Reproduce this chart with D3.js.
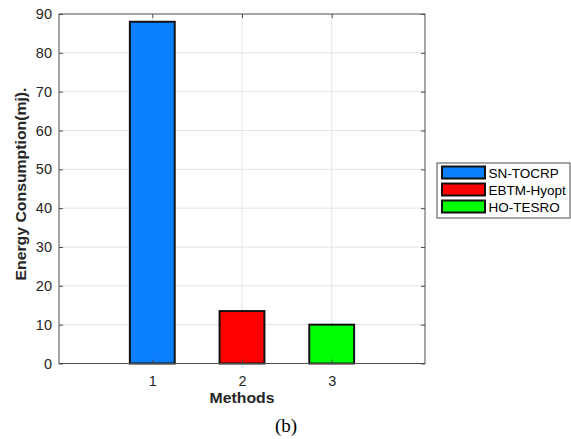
<!DOCTYPE html>
<html>
<head>
<meta charset="utf-8">
<script src="https://cdn.jsdelivr.net/npm/d3@7"></script>
<style>
  html, body { margin: 0; padding: 0; background: #fff; }
  svg { display: block; }
</style>
</head>
<body>
<svg id="chart" width="571" height="439"></svg>
<script>
// Energy consumption per method
const methods = ["SN-TOCRP", "EBTM-Hyopt", "HO-TESRO"];
const positions = [1, 2, 3];
const energy = [88, 13.5, 10];
const colors = ["#0a80ff", "#ff0000", "#00ff00"];
const yTicks = [0, 10, 20, 30, 40, 50, 60, 70, 80, 90];
const xTicks = [1, 2, 3];

const svg = d3.select("#chart");
const plot = { left: 59, right: 425, top: 14, bottom: 363.5 };

const x = d3.scaleLinear().domain([-0.04, 4.04]).range([plot.left, plot.right]);
const y = d3.scaleLinear().domain([0, 90]).range([plot.bottom, plot.top]);
const barW = x(0.5) - x(0);

// grid
const grid = svg.append("g");
grid.selectAll("line.h").data(yTicks.slice(1, -1)).join("line")
  .attr("x1", plot.left).attr("x2", plot.right)
  .attr("y1", d => y(d)).attr("y2", d => y(d))
  .attr("stroke", "#e3e3e3").attr("stroke-width", 1);
grid.selectAll("line.v").data(xTicks).join("line")
  .attr("y1", plot.top).attr("y2", plot.bottom)
  .attr("x1", d => x(d)).attr("x2", d => x(d))
  .attr("stroke", "#e3e3e3").attr("stroke-width", 1);

// bars
svg.append("g").selectAll("rect").data(energy).join("rect")
  .attr("x", (d, i) => x(positions[i]) - barW / 2)
  .attr("width", barW)
  .attr("y", d => y(d))
  .attr("height", d => y(0) - y(d))
  .attr("fill", (d, i) => colors[i])
  .attr("stroke", "#111")
  .attr("stroke-width", 2);

// axes frame
svg.append("rect")
  .attr("x", plot.left).attr("y", plot.top)
  .attr("width", plot.right - plot.left).attr("height", plot.bottom - plot.top)
  .attr("fill", "none").attr("stroke", "#4d4d4d").attr("stroke-width", 1);

const axisFont = "Liberation Sans, Arial, sans-serif";

const yAxis = svg.append("g")
  .attr("transform", `translate(${plot.left},0)`)
  .call(d3.axisLeft(y).tickValues(yTicks).tickSize(-4).tickPadding(7).tickFormat(d3.format("d")));
yAxis.select(".domain").remove();
yAxis.selectAll(".tick line").attr("stroke", "#4d4d4d");
yAxis.selectAll(".tick text").attr("fill", "#262626").attr("font-size", 14.5).attr("font-family", axisFont);

const yAxisR = svg.append("g")
  .attr("transform", `translate(${plot.right},0)`)
  .call(d3.axisRight(y).tickValues(yTicks).tickSize(-4).tickFormat(""));
yAxisR.select(".domain").remove();
yAxisR.selectAll(".tick line").attr("stroke", "#4d4d4d");

const xAxis = svg.append("g")
  .attr("transform", `translate(0,${plot.bottom})`)
  .call(d3.axisBottom(x).tickValues(xTicks).tickSize(-4).tickPadding(12).tickFormat(d3.format("d")));
xAxis.select(".domain").remove();
xAxis.selectAll(".tick line").attr("stroke", "#4d4d4d");
xAxis.selectAll(".tick text").attr("fill", "#262626").attr("font-size", 14.5).attr("font-family", axisFont);

const xAxisT = svg.append("g")
  .attr("transform", `translate(0,${plot.top})`)
  .call(d3.axisTop(x).tickValues(xTicks).tickSize(-4).tickFormat(""));
xAxisT.select(".domain").remove();
xAxisT.selectAll(".tick line").attr("stroke", "#4d4d4d");

// axis titles
svg.append("text")
  .attr("transform", "translate(26,184) rotate(-90)")
  .attr("text-anchor", "middle")
  .attr("font-family", axisFont).attr("font-weight", "bold").attr("font-size", 13.8)
  .attr("textLength", 193).attr("lengthAdjust", "spacingAndGlyphs")
  .attr("fill", "#262626")
  .text("Energy Consumption(mj).");

svg.append("text")
  .attr("x", x(2)).attr("y", 403)
  .attr("text-anchor", "middle")
  .attr("font-family", axisFont).attr("font-weight", "bold").attr("font-size", 15)
  .attr("textLength", 65).attr("lengthAdjust", "spacingAndGlyphs")
  .attr("fill", "#262626")
  .text("Methods");

svg.append("text")
  .attr("x", 286).attr("y", 432)
  .attr("text-anchor", "middle")
  .attr("font-family", "Liberation Serif, Times New Roman, serif").attr("font-size", 19)
  .attr("fill", "#000")
  .text("(b)");

// legend
const leg = svg.append("g").attr("transform", "translate(437,163)");
leg.append("rect")
  .attr("width", 133).attr("height", 55)
  .attr("fill", "#fff").attr("stroke", "#4d4d4d").attr("stroke-width", 1);
const items = leg.selectAll("g.item").data(methods).join("g")
  .attr("transform", (d, i) => `translate(5,${3.5 + i * 17})`);
items.append("rect")
  .attr("width", 43).attr("height", 12)
  .attr("fill", (d, i) => colors[i])
  .attr("stroke", "#111").attr("stroke-width", 2);
items.append("text")
  .attr("x", 46.5).attr("y", 11.5)
  .attr("font-family", axisFont).attr("font-size", 13.5)
  .attr("fill", "#000")
  .text(d => d);
</script>
</body>
</html>
